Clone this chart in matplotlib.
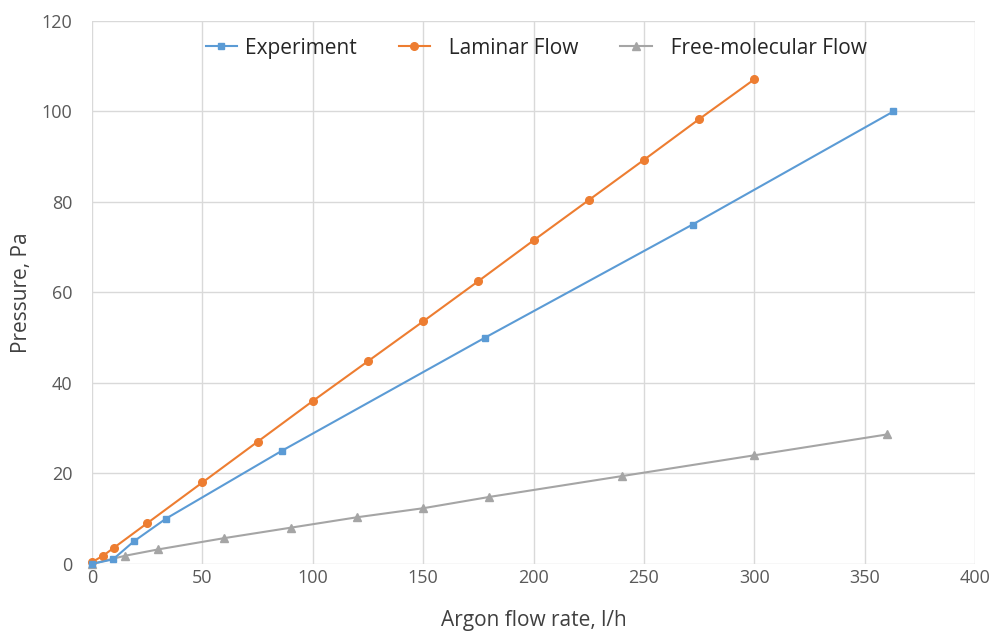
import matplotlib.pyplot as plt

# values
exp_x = [0, 9.5, 19, 33.5, 86, 178, 272, 363]
exp_y = [0, 1, 5, 10, 25, 50, 75, 100]

lam_x = [0, 5, 10, 25, 50, 75, 100, 125, 150, 175, 200, 225, 250, 275, 300]
lam_y = [0.4, 1.8, 3.6, 9.0, 18.0, 27.0, 36.0, 44.8, 53.6, 62.5, 71.5, 80.4, 89.3, 98.3, 107.1]

fm_x = [0, 15, 30, 60, 90, 120, 150, 180, 240, 300, 360]
fm_y = [0, 1.8, 3.2, 5.7, 8.0, 10.3, 12.3, 14.8, 19.4, 24.0, 28.6]

plt.rcParams["font.family"] = ["Open Sans", "DejaVu Sans"]

fig = plt.figure(figsize=(9.95, 6.35), dpi=100)
ax = fig.add_axes([0.0925, 0.112, 0.8875, 0.855])

ax.plot(exp_x, exp_y, color="#5b9bd5", lw=1.5, marker="s", ms=5, label="Experiment", clip_on=False, zorder=4)
ax.plot(lam_x, lam_y, color="#ed7d31", lw=1.5, marker="o", ms=5.5, label="  Laminar Flow", clip_on=False, zorder=3)
ax.plot(fm_x, fm_y, color="#a5a5a5", lw=1.5, marker="^", ms=6, label="  Free-molecular Flow", clip_on=False, zorder=2)

ax.set_xlim(0, 400)
ax.set_ylim(0, 120)
ax.set_xticks(range(0, 401, 50))
ax.set_yticks(range(0, 121, 20))
ax.grid(color="#d9d9d9", lw=1)
ax.set_axisbelow(True)
for s in ax.spines.values():
    s.set_visible(False)
ax.tick_params(axis="x", length=0, labelsize=13, labelcolor="#595959", pad=4)
ax.tick_params(axis="y", length=0, labelsize=13, labelcolor="#595959", pad=14)

ax.set_xlabel("Argon flow rate, l/h", fontsize=15, color="#404040", labelpad=16)
ax.set_ylabel("Pressure, Pa", fontsize=15, color="#404040", labelpad=7)

leg = ax.legend(loc="upper center", bbox_to_anchor=(0.503, 1.004), ncol=3, frameon=False,
                fontsize=15, handlelength=1.5, columnspacing=2.0, handletextpad=0.4)
for t in leg.get_texts():
    t.set_color("#262626")

fig.savefig("out.png", dpi=100)
